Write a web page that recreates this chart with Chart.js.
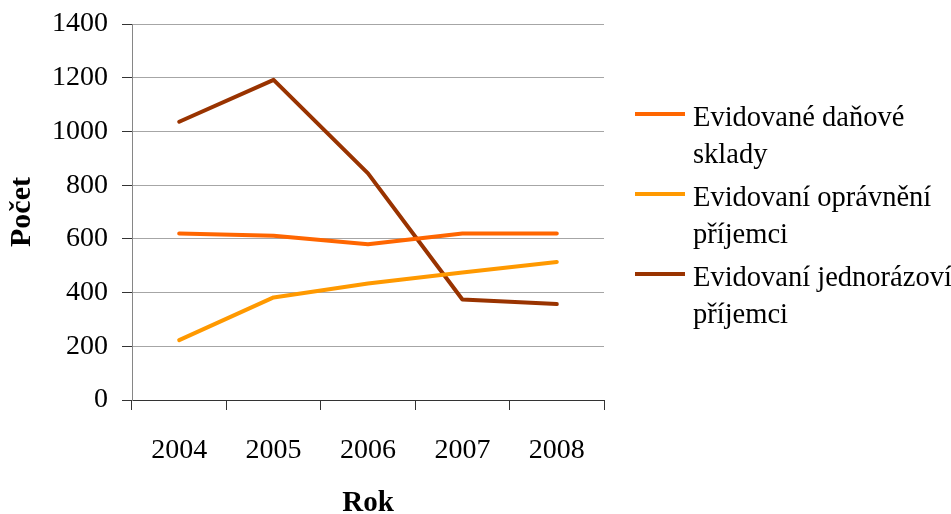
<!DOCTYPE html>
<html lang="cs">
<head>
<meta charset="utf-8">
<title>Počet evidovaných subjektů 2004–2008</title>
<script src="https://cdn.jsdelivr.net/npm/chart.js@4/dist/chart.umd.min.js"></script>
<style>
  html, body { margin: 0; padding: 0; background: #ffffff; }
  #wrap { width: 951px; height: 514px; position: relative; }
</style>
</head>
<body>
<div id="wrap"><canvas id="chart" width="951" height="514"></canvas></div>
<script>
// Categories (years)
const years = ['2004', '2005', '2006', '2007', '2008'];

// Series values
const danoveSklady = [620, 612, 580, 620, 620];
const opravneniPrijemci = [223, 382, 434, 475, 514];
const jednorazoviPrijemci = [1036, 1192, 844, 374, 357];

// Series names, split into the lines shown in the legend
const seriesNames = [
  ['Evidované daňové', 'sklady'],
  ['Evidovaní oprávnění', 'příjemci'],
  ['Evidovaní jednorázoví', 'příjemci']
];
const seriesColors = ['#FF6600', '#FF9900', '#993300'];

// Axis titles
const yTitle = 'Počet';
const xTitle = 'Rok';

const SERIF = '"Liberation Serif", "Times New Roman", serif';

// Legend drawn to the right of the plot, with wrapped names
const sideLegend = {
  id: 'sideLegend',
  afterDraw(chart) {
    const ctx = chart.ctx;
    ctx.save();
    ctx.font = '28.5px ' + SERIF;
    ctx.fillStyle = '#000000';
    ctx.textAlign = 'left';
    ctx.textBaseline = 'alphabetic';
    const lineX0 = 635, lineX1 = 685, textX = 693;
    const firstBaseline = 126, lineStep = 36.7, entryStep = 80;
    chart.data.datasets.forEach((ds, i) => {
      const base = firstBaseline + i * entryStep;
      const lines = seriesNames[i];
      ctx.strokeStyle = ds.borderColor;
      ctx.lineWidth = 4;
      ctx.lineCap = 'butt';
      ctx.beginPath();
      ctx.moveTo(lineX0, base - 12);
      ctx.lineTo(lineX1, base - 12);
      ctx.stroke();
      lines.forEach((t, k) => ctx.fillText(t, textX, base + k * lineStep));
    });
    ctx.restore();
  }
};

const makeSet = (i, data) => ({
  label: seriesNames[i].join(' '),
  data: data,
  borderColor: seriesColors[i],
  backgroundColor: seriesColors[i],
  borderWidth: 4,
  pointRadius: 0,
  pointHoverRadius: 0,
  tension: 0,
  borderCapStyle: 'round',
  borderJoinStyle: 'round',
  fill: false
});

new Chart(document.getElementById('chart'), {
  type: 'line',
  data: {
    labels: years,
    datasets: [
      makeSet(0, danoveSklady),
      makeSet(1, opravneniPrijemci),
      makeSet(2, jednorazoviPrijemci)
    ]
  },
  plugins: [sideLegend],
  options: {
    responsive: false,
    animation: false,
    events: [],
    layout: { padding: { top: 24, right: 347, bottom: 0, left: 0 } },
    plugins: {
      legend: { display: false },
      tooltip: { enabled: false },
      title: { display: false }
    },
    scales: {
      x: {
        type: 'category',
        offset: true,
        afterFit(scale) { scale.height = 114; scale.paddingLeft = 0; scale.paddingRight = 0; },
        grid: {
          offset: true,
          drawOnChartArea: false,
          drawTicks: true,
          tickLength: 10,
          tickColor: '#333333',
          tickWidth: 1
        },
        border: { display: true, color: '#333333', width: 1 },
        ticks: {
          color: '#000000',
          font: { family: SERIF, size: 28 },
          padding: 24,
          maxRotation: 0,
          autoSkip: false
        },
        title: {
          display: true,
          text: xTitle,
          color: '#000000',
          font: { family: SERIF, size: 29, weight: 'bold', lineHeight: 0.69 },
          padding: { top: 0, bottom: 0 }
        }
      },
      y: {
        min: 0,
        max: 1400,
        afterFit(scale) { scale.width = 132; scale.paddingTop = 0; scale.paddingBottom = 0; },
        grid: {
          color: '#A6A6A6',
          lineWidth: 1,
          drawTicks: true,
          tickLength: 10,
          tickColor: '#333333'
        },
        border: { display: true, color: '#868686', width: 1 },
        ticks: {
          stepSize: 200,
          color: '#000000',
          font: { family: SERIF, size: 28 },
          padding: 14,
          callback: (v) => String(v)
        },
        title: {
          display: true,
          text: yTitle,
          color: '#000000',
          font: { family: SERIF, size: 30, weight: 'bold' },
          padding: { top: 4, bottom: 0 }
        }
      }
    }
  }
});
</script>
</body>
</html>
